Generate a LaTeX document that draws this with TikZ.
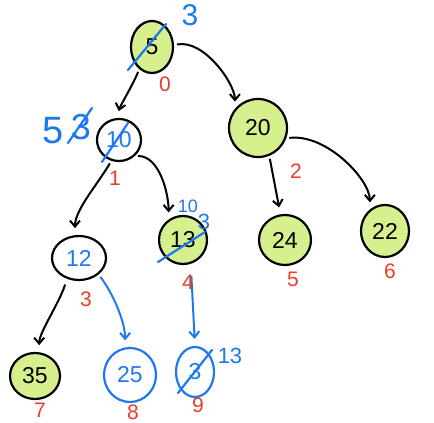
\documentclass[tikz,border=0pt]{standalone}
\usepackage{fontspec}
\setmainfont{Liberation Sans}
\usetikzlibrary{arrows.meta,shapes.geometric}
\definecolor{hgreen}{RGB}{214,240,142}
\definecolor{hblue}{RGB}{30,120,240}
\definecolor{hred}{RGB}{235,60,40}
\tikzset{
  nd/.style={ellipse,draw=black,line width=2.2pt,inner sep=0pt,font=\fontsize{23}{25}\selectfont},
  gnd/.style={nd,fill=hgreen},
  bnd/.style={nd,draw=hblue,text=hblue},
  arr/.style={line width=2pt,-{Straight Barb[length=6pt,width=10pt]},shorten >=7pt,shorten <=3pt},
  barr/.style={arr,draw=hblue},
  rlab/.style={text=hred,font=\fontsize{21}{23}\selectfont,inner sep=0pt},
  blab/.style={text=hblue,inner sep=0pt},
  strike/.style={draw=hblue,line width=2.2pt,line cap=round}
}
\begin{document}
\begin{tikzpicture}[x=1pt,y=1pt]
\useasboundingbox (0,0) rectangle (434,423);
% nodes
\node[gnd,minimum width=42pt,minimum height=52pt] (n0) at (152,376) {5};
\node[nd,minimum width=44pt,minimum height=42pt,text=hblue] (n1) at (119,283) {10};
\node[gnd,minimum width=58pt,minimum height=58pt] (n2) at (258,295) {20};
\node[nd,minimum width=54pt,minimum height=44pt,text=hblue] (n3) at (79,165) {12};
\node[gnd,minimum width=48pt,minimum height=48pt] (n4) at (183,183) {13};
\node[gnd,minimum width=52pt,minimum height=50pt] (n5) at (285,183) {24};
\node[gnd,minimum width=48pt,minimum height=52pt] (n6) at (385,192) {22};
\node[gnd,minimum width=50pt,minimum height=46pt] (n7) at (35,47) {35};
\node[bnd,minimum width=52pt,minimum height=54pt] (n8) at (130,48) {25};
\node[bnd,minimum width=38pt,minimum height=50pt] (n9) at (195,51) {3};
% edges
\draw[arr] (n0.-120) .. controls +(-6,-15) and +(3,12) .. (n1.95);
\draw[arr] (n0.5) .. controls +(30,6) and +(0,25) .. (n2.140);
\draw[arr] (n1.-110) .. controls +(-15,-25) and +(0,25) .. (n3.100);
\draw[arr] (n1.-45) .. controls +(25,0) and +(0,25) .. (n4.125);
\draw[arr] (n2.-68) -- (n5.100);
\draw[arr] (n2.-20) .. controls +(40,5) and +(0,30) .. (n6.125);
\draw[arr,shorten <=6pt] (n3.-120) .. controls +(-8,-25) and +(0,20) .. (n7.80);
\draw[barr] (n3.-40) .. controls +(15,-20) and +(0,25) .. (n8.100);
\draw[barr,shorten <=12pt] (n4.-72) -- (n9.90);
% strikes and blue labels
\draw[strike] (128,353) -- (166,399);
\node[blab,font=\fontsize{30}{32}\selectfont] (b0) at (190,408) {3};
\draw[strike] (102,261) -- (128,300);
\node[blab,font=\fontsize{38}{40}\selectfont] (b1) at (53,292) {5};
\node[blab,font=\fontsize{36}{38}\selectfont] (b2) at (81,296) {3};
\draw[strike] (68,280) -- (92,315);
\draw[strike] (158,161) -- (205,191);
\node[blab,font=\fontsize{22}{24}\selectfont] (b3) at (204,201) {3};
\node[blab,font=\fontsize{18}{20}\selectfont] (b4) at (188,217) {10};
\draw[strike] (178,30) -- (212,73);
\node[blab,font=\fontsize{22}{24}\selectfont] (b5) at (230,67) {13};
% red labels
\node[rlab] (r0) at (165,339) {0};
\node[rlab] (r1) at (115,245) {1};
\node[rlab] (r2) at (296,252) {2};
\node[rlab] (r3) at (86,124) {3};
\node[rlab] (r4) at (188,141) {4};
\node[rlab] (r5) at (293,144) {5};
\node[rlab] (r6) at (390,152) {6};
\node[rlab] (r7) at (40,13) {7};
\node[rlab] (r8) at (133,11) {8};
\node[rlab] (r9) at (198,18) {9};
\end{tikzpicture}
\end{document}
